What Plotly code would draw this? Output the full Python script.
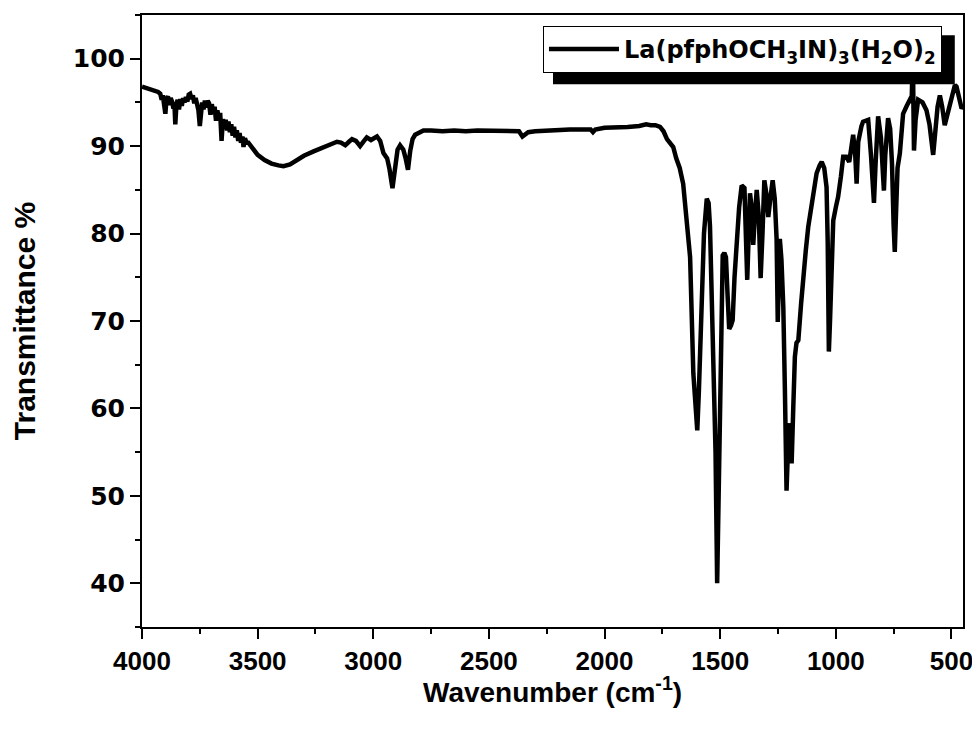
import plotly.graph_objects as go

wavenumber = [
    4000, 3985, 3970, 3955, 3940, 3930, 3921, 3915, 3910, 3904, 3899, 3894, 3888, 3882, 3876,
    3870, 3864, 3860, 3856, 3851, 3846, 3840, 3834, 3828, 3822, 3816, 3810, 3804, 3798, 3792,
    3786, 3780, 3774, 3768, 3762, 3756, 3750, 3745, 3740, 3734, 3728, 3722, 3716, 3710, 3704,
    3698, 3692, 3686, 3680, 3674, 3668, 3662, 3656, 3650, 3644, 3638, 3632, 3626, 3620, 3614,
    3608, 3602, 3596, 3590, 3584, 3578, 3572, 3566, 3561, 3555, 3548, 3540,
    3520, 3500, 3470, 3440, 3410,
    3388, 3360, 3330, 3300, 3258, 3220, 3180, 3157, 3140, 3121, 3105, 3092, 3075, 3057, 3040,
    3028, 3010, 2995, 2984, 2970, 2956, 2940, 2930, 2917, 2905, 2895, 2884, 2870, 2860, 2850,
    2840, 2830, 2819, 2800, 2783, 2750, 2700, 2650, 2600, 2550, 2500, 2450, 2400, 2370, 2355,
    2345, 2330, 2300, 2250, 2200, 2150, 2100, 2060, 2050, 2040, 2000, 1950, 1900, 1850, 1820,
    1800, 1780, 1760, 1745, 1730, 1715, 1703, 1690, 1675, 1660, 1645, 1630, 1616, 1605, 1599,
    1592, 1580, 1570, 1558, 1550, 1544, 1537, 1530, 1520, 1513, 1506, 1501, 1495, 1489, 1482,
    1475, 1468, 1461, 1453, 1446, 1438, 1429, 1418, 1407, 1395, 1383, 1377, 1371, 1364, 1357,
    1350, 1342, 1333, 1325, 1317, 1309, 1300, 1292, 1283, 1273, 1264, 1256, 1251, 1246, 1242,
    1235, 1227, 1220, 1213, 1206, 1198, 1194, 1191, 1184, 1177, 1170, 1162, 1150, 1141, 1130,
    1119, 1100, 1083, 1070, 1061, 1050, 1040, 1035, 1030, 1025, 1018, 1011, 1000, 990, 978,
    968, 955, 942, 933, 925, 916, 910, 903, 896, 889, 882, 870, 860, 848, 840,
    835, 828, 817, 805, 797, 792, 786, 774, 765, 757, 750, 745, 740, 733, 723,
    716, 709, 695, 680, 672, 669, 667, 665, 662, 655, 644, 625, 608, 595, 585,
    579, 572, 560, 550, 540, 529, 518, 507, 495, 485, 478, 471, 463, 456, 450,
]

transmittance = [
    96.8, 96.7, 96.6, 96.4, 96.3, 96.2, 96.0, 95.3, 95.8, 95.0, 93.7, 95.4, 95.7, 94.7, 95.5,
    95.1, 94.3, 95.0, 92.5, 94.8, 95.3, 94.2, 95.4, 94.6, 95.5, 95.0, 95.6, 95.1, 95.9, 96.0,
    95.4, 95.8, 94.9, 95.5, 94.6, 94.1, 92.3, 94.5, 95.0, 94.2, 95.2, 94.4, 95.2, 94.9, 93.6,
    94.8, 93.7, 94.5, 92.9, 94.1, 93.0, 93.8, 90.6, 93.1, 92.0, 93.0, 91.8, 92.8, 91.6, 92.5,
    91.2, 92.2, 91.0, 91.8, 90.6, 91.5, 90.4, 91.1, 89.9, 90.9, 90.4, 90.4,
    89.6, 89.0, 88.4, 88.0, 87.8,
    87.7, 87.9, 88.4, 88.9, 89.4, 89.8, 90.3, 90.5, 90.4, 90.1, 90.5, 90.8, 90.6, 90.0, 90.6,
    91.0, 90.7, 90.9, 91.1, 90.6, 89.2, 88.6, 87.4, 85.2, 87.8, 89.6, 90.1, 89.6, 88.6, 87.3,
    89.5, 90.8, 91.3, 91.6, 91.8, 91.8, 91.7, 91.8, 91.7, 91.8, 91.8, 91.7, 91.8, 91.7, 91.1,
    91.3, 91.6, 91.7, 91.8, 91.9, 91.9, 91.9, 91.9, 91.6, 91.9, 92.1, 92.1, 92.2, 92.3, 92.5,
    92.4, 92.4, 92.2, 91.7, 90.8, 90.3, 89.9, 88.6, 87.5, 85.7, 82.0, 77.3, 64.0, 59.0, 57.5,
    62.0, 71.6, 80.0, 84.0, 83.5, 80.8, 74.0, 67.8, 55.0, 40.0, 52.0, 64.0, 72.0, 77.5, 77.8,
    77.3, 73.0, 69.1, 69.5, 70.1, 75.0, 79.4, 83.0, 85.5, 85.2, 74.7, 79.0, 84.6, 83.0, 78.7,
    82.0, 85.0, 82.0, 74.9, 80.0, 86.1, 84.5, 81.9, 84.0, 86.1, 84.0, 79.4, 69.9, 75.0, 79.4,
    77.0, 71.6, 62.0, 50.6, 56.0, 58.3, 56.0, 53.7, 60.0, 65.9, 67.5, 67.8, 72.0, 75.4, 78.0,
    80.8, 84.0, 86.9, 87.8, 88.2, 87.5, 85.3, 79.0, 66.5, 70.0, 78.0, 81.5, 83.0, 84.2, 86.5,
    88.8, 88.8, 88.2, 89.8, 91.3, 89.0, 85.7, 90.5, 91.5, 92.3, 92.8, 92.9, 93.0, 89.0, 85.0,
    83.5, 88.0, 93.4, 91.0, 86.0, 84.9, 89.0, 93.2, 92.0, 88.0, 81.0, 77.9, 82.0, 87.5, 89.2,
    92.0, 93.7, 94.5, 95.3, 95.0, 98.0, 101.0, 96.0, 89.5, 93.0, 95.3, 95.0, 94.1, 92.5, 90.0,
    89.0, 91.0, 94.5, 95.8, 94.5, 92.4, 93.5, 94.5, 96.0, 97.0, 96.8, 96.0, 95.5, 94.3, 94.5,
]

series_name = "La(pfphOCH<sub>3</sub>IN)<sub>3</sub>(H<sub>2</sub>O)<sub>2</sub>"
x_title = "Wavenumber (cm<sup>-1</sup>)"
y_title = "Transmittance %"
x_ticks = [4000, 3500, 3000, 2500, 2000, 1500, 1000, 500]
y_ticks = [40, 50, 60, 70, 80, 90, 100]

fig = go.Figure()
fig.add_trace(go.Scatter(
    x=wavenumber, y=transmittance, mode="lines", name=series_name,
    line=dict(color="black", width=4.5), showlegend=True,
))

# drop shadow behind the legend box
fig.add_shape(type="rect", xref="paper", yref="paper",
              x0=0.5006, x1=0.990, y0=0.887, y1=0.967,
              fillcolor="black", line=dict(width=0), layer="above")

fig.add_annotation(
    text=x_title, xref="paper", yref="paper", x=0.5, y=-0.1035,
    xanchor="center", yanchor="middle", showarrow=False,
    font=dict(family="Liberation Sans, Arial", size=28, weight="bold", color="black"),
)

fig.update_layout(
    width=972, height=725,
    margin=dict(l=134, r=17, t=7, b=106),
    paper_bgcolor="white", plot_bgcolor="white",
    font=dict(family="Liberation Sans, Arial", color="black"),
    showlegend=True,
    legend=dict(
        x=0.4884, y=0.982, xanchor="left", yanchor="top",
        bgcolor="white", bordercolor="black", borderwidth=1,
        font=dict(family="DejaVu Sans", size=24, weight="bold", color="black"),
        itemwidth=70,
    ),
    xaxis=dict(
        range=[4000, 450], tickvals=x_ticks, ticks="outside", ticklen=10, tickwidth=2,
        tickcolor="black", showline=True, linewidth=2, linecolor="black", mirror=True,
        showgrid=False, zeroline=False, automargin=False,
        tickfont=dict(family="Liberation Sans, Arial", size=26, weight="bold"),
        minor=dict(dtick=250, ticks="outside", ticklen=5, tickwidth=2, tickcolor="black", showgrid=False),
    ),
    yaxis=dict(
        range=[35, 105], tickvals=y_ticks, ticks="outside", ticklen=10, tickwidth=2,
        tickcolor="black", showline=True, linewidth=2, linecolor="black", mirror=True,
        showgrid=False, zeroline=False, automargin=False,
        tickfont=dict(family="DejaVu Sans", size=25, weight="bold"),
        minor=dict(dtick=5, tick0=35, ticks="outside", ticklen=5, tickwidth=2, tickcolor="black", showgrid=False),
        title=dict(text=y_title,
                   font=dict(family="Liberation Sans, Arial", size=30, weight="bold"), standoff=33),
    ),
)

fig.write_html("out.html")
